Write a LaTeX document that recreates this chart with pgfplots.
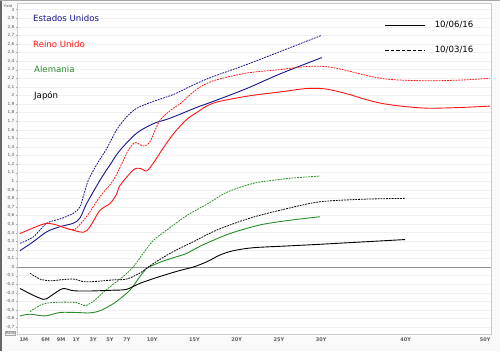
\documentclass[border=0pt]{standalone}
\usepackage{fontspec}
\setmainfont{DejaVu Sans}
\usepackage{pgfplots}
\pgfplotsset{compat=1.18}
\definecolor{usblue}{RGB}{20,20,140}
\definecolor{ukred}{RGB}{255,20,20}
\definecolor{degreen}{RGB}{40,140,40}
\begin{document}
\begin{tikzpicture}[x=1pt,y=1pt]
\fill[gray!5] (0,0) rectangle (500,351);
\useasboundingbox (0,0) rectangle (500,351);
\draw[gray!80!black, line width=1.5pt] (0.75,0) -- (0.75,351);
\draw[gray!70, line width=1pt] (0,350.5) -- (500,350.5);
\begin{axis}[
  at={(17.5pt,16.7pt)}, anchor=south west,
  scale only axis, width=473.5pt, height=331pt,
  xmin=-5.95, xmax=50.1, ymin=-0.784, ymax=3.073,
  axis background/.style={fill=white},
  axis line style={gray!40},
  xtick={-5.19,-2.62,-0.80,1,3,5,7,10,15,20,25,30,40,49.4},
  xticklabels={1M,6M,9M,1Y,3Y,5Y,7Y,10Y,15Y,20Y,25Y,30Y,40Y,50Y},
  xtick pos=bottom, ytick pos=left,
  x tick style={draw=none},
  xticklabel style={font=\fontsize{5}{6}\selectfont\bfseries, text=gray!75!black, inner sep=1pt},
  ytick={-0.7,-0.6,-0.5,-0.4,-0.3,-0.2,-0.1,0,0.1,0.2,0.3,0.4,0.5,0.6,0.7,0.8,0.9,1,1.1,1.2,1.3,1.4,1.5,1.6,1.7,1.8,1.9,2,2.1,2.2,2.3,2.4,2.5,2.6,2.7,2.8,2.9,3},
  y tick style={gray!70}, major tick length=2pt, tick align=outside,
  yticklabel style={font=\fontsize{4.2}{4.6}\selectfont, text=gray!65!black, inner sep=1pt,
    /pgf/number format/.cd, fixed, precision=1, use comma, assume math mode=true},
  ymajorgrids, grid style={gray!12},
  extra y ticks={0}, extra y tick labels={},
  extra y tick style={grid style={gray!85, line width=0.6pt}, major tick length=0pt},
  legend style={at={(0.7746,0.946)}, anchor=north west, draw=none, fill=none,
    font=\fontsize{8.6}{10}\selectfont, row sep=17pt, inner sep=0pt,
    nodes={inner sep=0pt}, /tikz/column 1/.style={column sep=9pt}},
  legend image code/.code={\draw[#1] (0pt,0pt) -- (40pt,0pt);},
  legend cell align=left,
  every axis plot/.append style={smooth, tension=0.5},
  soli/.style={line width=0.9pt},
  dash/.style={line width=0.8pt, dash pattern=on 1.8pt off 1pt},
]
% Estados Unidos 10/06/16
\addplot[usblue, soli, forget plot] coordinates {(-5.66,0.19) (-4.08,0.295) (-2.50,0.41) (-0.92,0.47) (0.65,0.51) (1.44,0.57) (2.24,0.74) (3.81,1.01) (5.00,1.19) (6.18,1.36) (8.16,1.56) (10.12,1.67) (11.71,1.72) (13.28,1.78) (15.26,1.86) (17.23,1.93) (21.18,2.08) (25.12,2.25) (30.06,2.44)};
% Estados Unidos 10/03/16
\addplot[usblue, dash, forget plot] coordinates {(-5.66,0.276) (-4.08,0.35) (-2.50,0.51) (-0.92,0.56) (0.65,0.625) (1.44,0.70) (1.83,0.82) (2.43,1.01) (3.46,1.2) (4.61,1.38) (5.79,1.60) (6.97,1.75) (8.16,1.85) (10.12,1.93) (12.49,2.01) (15.26,2.14) (17.23,2.22) (21.18,2.36) (25.12,2.51) (30.06,2.70)};
% Reino Unido 10/06/16
\addplot[ukred, soli, forget plot] coordinates {(-5.66,0.39) (-2.90,0.50) (-1.72,0.50) (-0.13,0.45) (1.83,0.405) (2.63,0.47) (3.81,0.66) (5.00,0.74) (5.79,0.85) (6.18,0.95) (7.75,1.13) (8.55,1.15) (9.34,1.12) (10.12,1.21) (11.12,1.36) (12.49,1.55) (14.08,1.72) (15.26,1.80) (17.23,1.91) (21.18,1.99) (25.12,2.04) (28.28,2.08) (30.5,2.075) (33,2.02) (35,1.96) (37,1.91) (39,1.88) (41,1.86) (43,1.85) (46.8,1.86) (49.98,1.875)};
% Reino Unido 10/03/16
\addplot[ukred, dash, forget plot] coordinates {(-0.13,0.45) (0.85,0.44) (2.24,0.59) (3.81,0.82) (5.39,1.01) (6.57,1.24) (7.16,1.36) (7.96,1.45) (8.94,1.41) (9.73,1.46) (10.92,1.71) (12.49,1.85) (13.28,1.90) (15.26,2.07) (17.23,2.17) (21.18,2.26) (25.12,2.30) (27.49,2.33) (29.47,2.34) (31.04,2.33) (33,2.29) (35,2.24) (37,2.20) (39,2.18) (42.88,2.17) (46.82,2.18) (49.98,2.20)};
% Alemania 10/06/16
\addplot[degreen, soli, forget plot] coordinates {(-5.66,-0.57) (-4.47,-0.55) (-2.70,-0.57) (-0.92,-0.53) (1.05,-0.53) (2.63,-0.535) (3.81,-0.51) (5.00,-0.45) (5.79,-0.40) (7.36,-0.27) (8.55,-0.11) (9.34,-0.015) (9.93,0.015) (11.31,0.07) (12.89,0.12) (14.08,0.16) (16.04,0.26) (19.20,0.39) (22.75,0.49) (25.91,0.54) (29.86,0.586)};
% Alemania 10/03/16
\addplot[degreen, dash, forget plot] coordinates {(-4.47,-0.52) (-2.90,-0.43) (-0.92,-0.41) (1.05,-0.415) (2.04,-0.45) (3.02,-0.40) (3.81,-0.33) (5.00,-0.23) (6.57,-0.11) (7.75,0.0) (8.94,0.16) (10.12,0.31) (11.71,0.43) (14.08,0.60) (16.44,0.73) (18.81,0.87) (21.96,0.975) (25.91,1.03) (29.86,1.06)};
% Japon 10/06/16
\addplot[black, soli, forget plot] coordinates {(-5.66,-0.25) (-4.08,-0.33) (-2.90,-0.377) (-2.50,-0.37) (-1.31,-0.29) (-0.53,-0.25) (0.65,-0.276) (2.24,-0.28) (3.81,-0.276) (5.39,-0.27) (6.97,-0.26) (8.55,-0.19) (10.92,-0.11) (13.28,-0.04) (14.86,0.0) (16.44,0.06) (18.02,0.14) (19.59,0.19) (21.96,0.225) (25.91,0.245) (29.86,0.265) (39.92,0.32)};
% Japon 10/03/16
\addplot[black, dash, forget plot] coordinates {(-4.47,-0.073) (-3.29,-0.14) (-2.11,-0.16) (-0.92,-0.15) (0.65,-0.14) (1.83,-0.17) (3.02,-0.17) (5.39,-0.15) (6.97,-0.14) (8.55,-0.07) (10.12,0.04) (12.49,0.18) (14.86,0.295) (17.63,0.43) (21.57,0.57) (25.91,0.68) (29.86,0.76) (35,0.79) (39.92,0.80)};
\addlegendimage{black, line width=1.3pt}
\addlegendimage{black, line width=1.3pt, dash pattern=on 3.5pt off 2pt}
\legend{10/06/16, 10/03/16}
\end{axis}
\node[anchor=west, inner sep=0pt, text=usblue, font=\fontsize{8.6}{10}\selectfont] at (33,333) {Estados Unidos};
\node[anchor=west, inner sep=0pt, text=ukred, font=\fontsize{8.6}{10}\selectfont] at (33,307) {Reino Unido};
\node[anchor=west, inner sep=0pt, text=degreen, font=\fontsize{8.6}{10}\selectfont] at (34,282) {Alemania};
\node[anchor=west, inner sep=0pt, text=black, font=\fontsize{8.6}{10}\selectfont] at (34,255) {Japón};
\node[anchor=west, inner sep=0pt, text=gray!60!black, font=\fontsize{3.5}{4}\selectfont] at (3.5,345) {Yield};
\node[draw=gray!70, fill=gray!12, inner sep=0.6pt, text=gray!60!black, font=\fontsize{3.5}{4}\selectfont] at (10.5,18) {Ratio};
\end{tikzpicture}
\end{document}
